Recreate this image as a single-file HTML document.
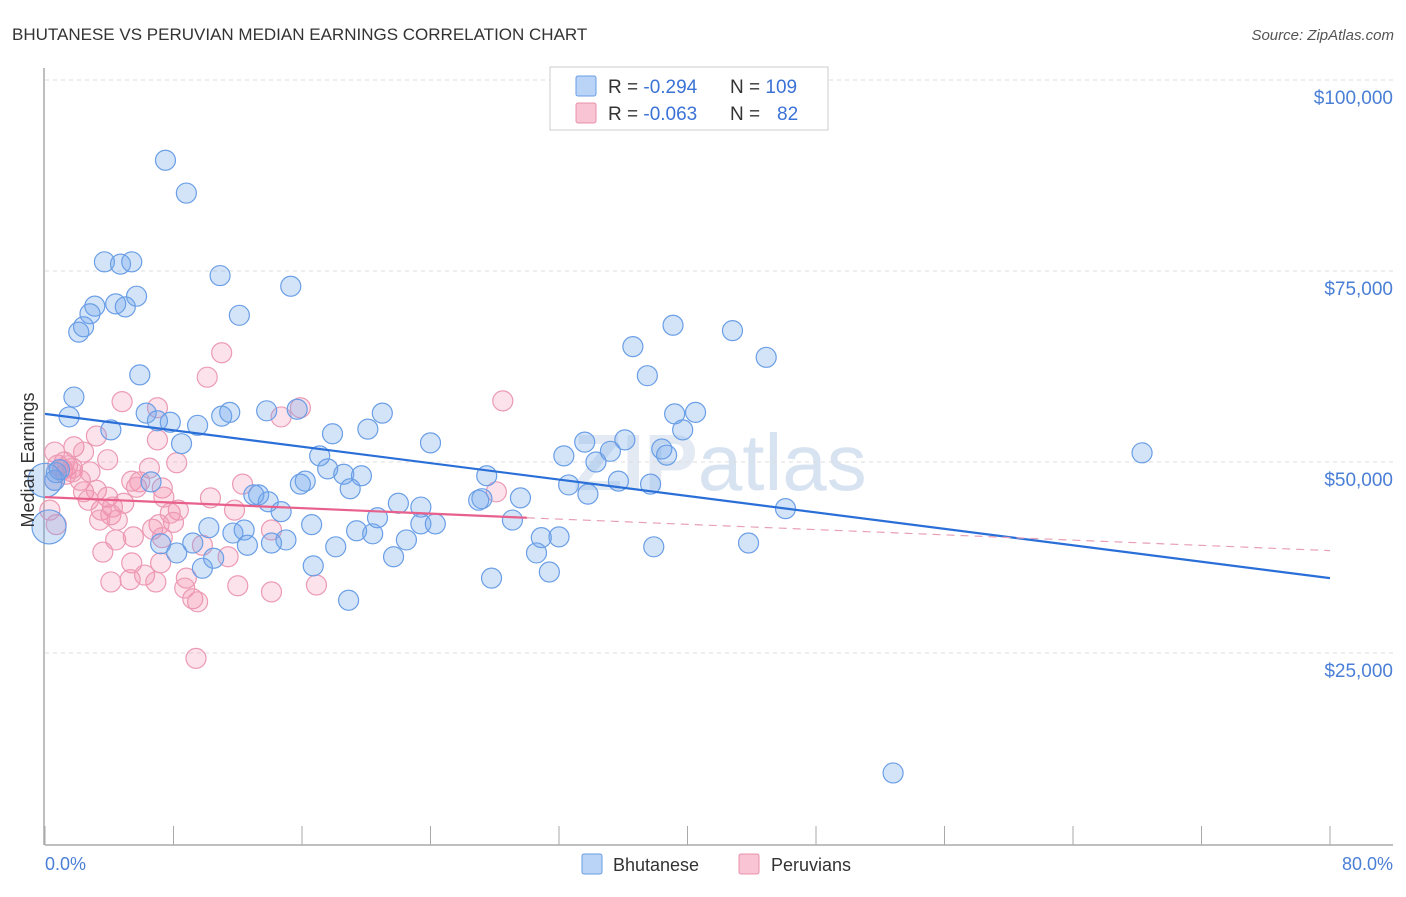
<!DOCTYPE html>
<html><head><meta charset="utf-8">
<style>
body{margin:0;background:#fff;font-family:"Liberation Sans",sans-serif;}
svg text{font-family:"Liberation Sans",sans-serif;}
</style></head>
<body>
<svg id="chart" width="1406" height="892" xmlns="http://www.w3.org/2000/svg">
<text x="12" y="40" font-size="17" fill="#333">BHUTANESE VS PERUVIAN MEDIAN EARNINGS CORRELATION CHART</text>
<text x="1394" y="40" font-size="15" fill="#555" text-anchor="end" font-style="italic">Source: ZipAtlas.com</text>
<text x="720" y="490" font-size="80" fill="#d8e2ee" text-anchor="middle" font-weight="bold" opacity="0.7">ZIP<tspan font-weight="normal" fill="#c8d8ec">atlas</tspan></text>
<g id="grid"></g>
<g id="axes"></g>
<g id="pink"></g>
<g id="blue"></g>
<g id="trends"></g>
<text transform="translate(34,460) rotate(-90)" font-size="18" fill="#333" text-anchor="middle">Median Earnings</text>
<text x="45" y="870" font-size="18" fill="#4a7fd6">0.0%</text>
<text x="1393" y="870" font-size="18" fill="#4a7fd6" text-anchor="end">80.0%</text>
<g>
<rect x="582" y="854" width="20" height="20" fill="#b9d4f7" stroke="#6a9ee6" rx="2"/>
<text x="613" y="871" font-size="18" fill="#333">Bhutanese</text>
<rect x="739" y="854" width="20" height="20" fill="#f9c5d4" stroke="#e890ab" rx="2"/>
<text x="771" y="871" font-size="18" fill="#333">Peruvians</text>
</g>
<g>
<rect x="550" y="67" width="278" height="63" fill="#fff" stroke="#ccc"/>
<rect x="576" y="76" width="20" height="20" fill="#b9d4f7" stroke="#6a9ee6" rx="2"/>
<rect x="576" y="103" width="20" height="20" fill="#f9c5d4" stroke="#e890ab" rx="2"/>
<text x="608" y="93" font-size="19" fill="#333">R = <tspan fill="#3b72d6">-0.294</tspan><tspan x="730">N = </tspan><tspan fill="#3b72d6">109</tspan></text>
<text x="608" y="120" font-size="19" fill="#333">R = <tspan fill="#3b72d6">-0.063</tspan><tspan x="730">N = </tspan><tspan x="777" fill="#3b72d6">82</tspan></text>
</g>
</svg>
<script>
const yTicks=[25,50,75,100];
const yTickLabels=["$25,000","$50,000","$75,000","$100,000"];
const xTicks=[0,8,16,24,32,40,48,56,64,72,80];
const blueX=[7.5,8.8,3.7,4.7,5.4,10.9,15.3,5.7,3.1,4.4,5.0,2.8,2.4,2.1,12.1,39.1,42.8,36.6,44.9,37.5,5.9,1.8,1.5,6.3,7.0,7.8,9.5,11.0,11.5,13.8,15.7,21.0,39.2,40.5,17.9,20.1,4.1,8.5,24.0,33.6,36.1,39.7,32.3,34.3,35.2,38.4,38.7,68.3,17.1,17.6,18.6,19.7,19.0,16.2,15.9,27.5,32.6,35.7,37.7,33.8,13.3,13.9,13.0,14.7,6.6,0.7,0.6,0.9,22.0,23.4,27.2,27.0,29.6,46.1,10.2,11.7,12.4,15.0,16.6,19.4,20.4,20.7,22.5,23.4,24.3,29.1,30.9,32.0,7.2,9.2,8.2,12.6,14.1,18.1,21.7,30.6,37.9,43.8,10.5,9.8,16.7,27.8,31.4,18.9,52.8,0.25,0.0];
const blueY=[89.5,85.2,76.2,75.9,76.2,74.4,73.0,71.7,70.4,70.7,70.3,69.4,67.7,67.0,69.2,67.9,67.2,65.1,63.7,61.3,61.4,58.5,55.9,56.4,55.4,55.2,54.8,56.0,56.5,56.7,56.9,56.4,56.3,56.5,53.7,54.3,54.2,52.4,52.5,52.6,52.9,54.2,50.8,50.0,51.4,51.7,50.9,51.2,50.8,49.1,48.4,48.2,46.5,47.5,47.1,48.2,47.0,47.5,47.1,45.8,45.7,44.8,45.7,43.5,47.4,48.6,47.6,49.0,44.6,44.1,45.2,45.0,45.3,43.9,41.4,40.7,41.1,39.8,41.8,41.0,40.6,42.7,39.8,41.9,41.9,42.4,40.1,40.2,39.3,39.4,38.1,39.1,39.4,38.9,37.6,38.1,38.9,39.4,37.4,36.1,36.4,34.8,35.6,31.9,9.3,41.5,47.6];
const blueSize=blueX.map((v,i)=>i>=blueX.length-2?2:1);
const pinkX=[11.0,10.1,28.5,4.8,7.0,15.9,14.7,3.2,7.0,1.8,0.6,3.9,8.2,2.4,1.2,0.8,1.1,1.4,1.7,2.8,6.5,5.4,5.9,5.7,12.3,7.3,2.2,2.4,3.2,2.7,3.9,4.2,4.9,3.5,4.1,4.5,7.4,7.8,8.3,10.3,8.0,7.1,6.7,7.3,4.4,3.6,5.5,3.4,5.4,7.2,6.2,8.8,6.9,4.1,5.3,8.7,9.2,9.5,9.8,11.4,12.0,14.1,16.9,14.1,11.8,28.1,0.7,0.6,9.4,0.3,1.7,1.3];
const pinkY=[64.3,61.1,58.0,57.9,57.1,57.1,55.9,53.4,52.9,52.0,51.3,50.3,49.9,51.3,50.0,49.6,49.0,49.5,49.2,48.7,49.2,47.5,47.4,46.7,47.1,46.6,47.6,46.1,46.3,45.0,45.4,44.1,44.6,43.7,43.1,42.4,45.4,43.3,43.7,45.3,42.1,41.8,41.2,40.1,39.8,38.2,40.2,42.4,36.8,36.8,35.2,34.8,34.3,34.3,34.6,33.5,32.1,31.7,39.1,37.6,33.8,33.0,33.9,41.1,43.7,46.1,41.8,47.6,24.3,43.7,48.7,48.4];
const blueTrendX=[0,80],blueTrendY=[56.3,34.8];
const pinkTrendX=[0,30,80],pinkTrendY=[45.4,42.7,38.4];
const X=v=>45+v*16.0625, Y=v=>844-v*7.64;
const NS="http://www.w3.org/2000/svg";
function mk(tag,attrs,parent){const e=document.createElementNS(NS,tag);for(const k in attrs)e.setAttribute(k,attrs[k]);parent.appendChild(e);return e;}
const grid=document.getElementById('grid'),axes=document.getElementById('axes');
yTicks.forEach((t,i)=>{
 const l=mk('line',{x1:45,x2:1393,y1:Y(t),y2:Y(t),stroke:'#ddd','stroke-dasharray':'4,4'},grid);
 
 
 const tx=mk('text',{x:1393,y:Y(t)+24,'font-size':19,fill:'#4a7fd6','text-anchor':'end'},grid);
 tx.textContent=yTickLabels[i];
 
 
});
const ax=mk('line',{x1:45,x2:1393,y1:845,y2:845,stroke:'#aaa','stroke-width':1.5},axes);


const ay=mk('line',{x1:44,x2:44,y1:68,y2:845,stroke:'#aaa','stroke-width':1.5},axes);


xTicks.forEach(t=>{
 const l=mk('line',{x1:X(t),x2:X(t),y1:826,y2:845,stroke:'#aaa'},axes);
 
 
});
const pg=document.getElementById('pink');
pinkX.forEach((x,i)=>{
 const c=mk('circle',{cx:X(x),cy:Y(pinkY[i]),r:10,fill:'rgba(244,140,170,0.25)',stroke:'#ec9ab4','stroke-width':1.2},pg);
 
 
});
const bg=document.getElementById('blue');
blueX.forEach((x,i)=>{
 const c=mk('circle',{cx:X(x),cy:Y(blueY[i]),r:blueSize[i]>1?17:10,fill:'rgba(110,165,235,0.3)',stroke:'#6a9ee6','stroke-width':1.2},bg);
 
 
});
const tg=document.getElementById('trends');
const bt=mk('line',{x1:X(blueTrendX[0]),y1:Y(blueTrendY[0]),x2:X(blueTrendX[1]),y2:Y(blueTrendY[1]),stroke:'#2a6fd8','stroke-width':2.2},tg);


const pt=mk('line',{x1:X(pinkTrendX[0]),y1:Y(pinkTrendY[0]),x2:X(pinkTrendX[1]),y2:Y(pinkTrendY[1]),stroke:'#e8608c','stroke-width':2.2},tg);


const pd=mk('line',{x1:X(pinkTrendX[1]),y1:Y(pinkTrendY[1]),x2:X(pinkTrendX[2]),y2:Y(pinkTrendY[2]),stroke:'#e8a0b8','stroke-width':1.2,'stroke-dasharray':'8,6'},tg);


</script>
</body></html>
